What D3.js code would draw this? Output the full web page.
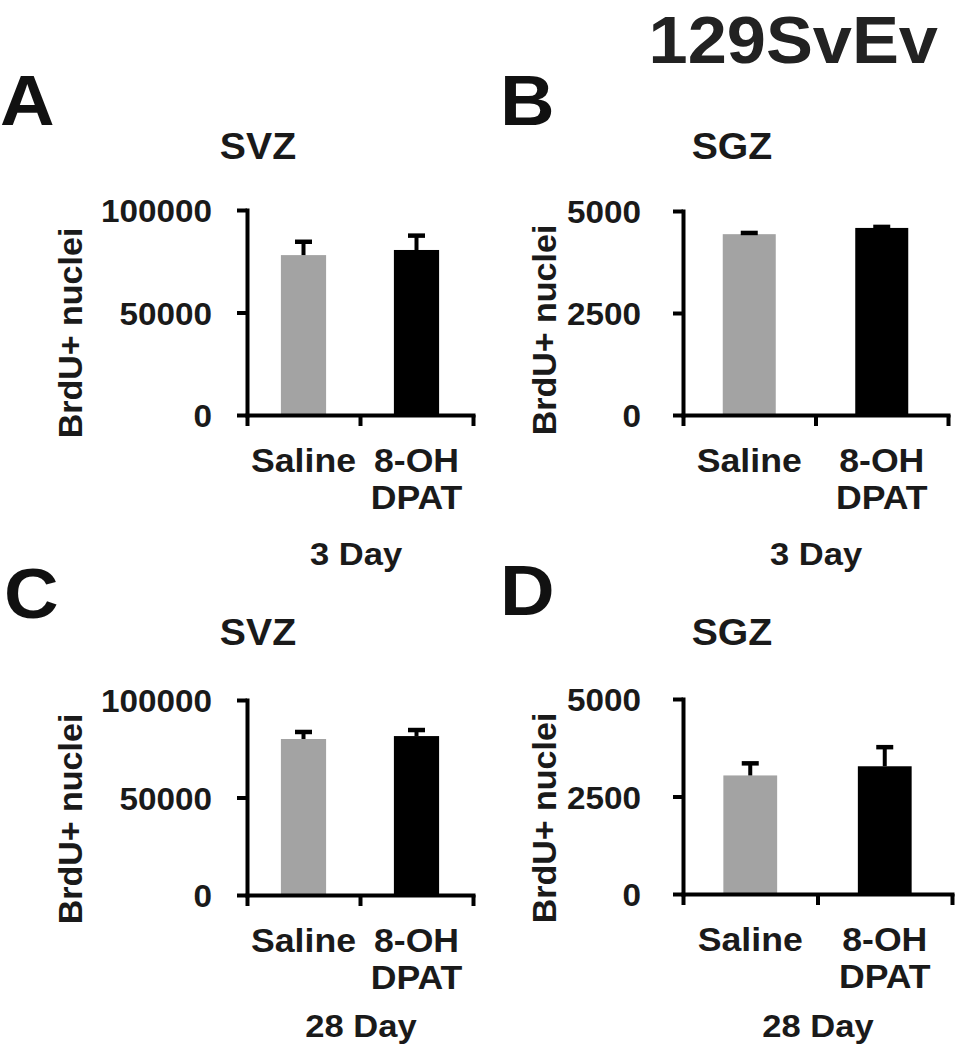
<!DOCTYPE html>
<html>
<head>
<meta charset="utf-8">
<script src="https://cdn.jsdelivr.net/npm/d3@7"></script>
<style>
  html, body { margin: 0; padding: 0; background: #fff; }
  svg { display: block; }
  text { font-family: "Liberation Sans", Arial, Helvetica, sans-serif; font-weight: bold; fill: #1a1a1a; }
</style>
</head>
<body>
<script>
// ---------- data ----------
const figureTitle = "129SvEv";
const panelLetters = ["A", "B", "C", "D"];
const regions = ["SVZ", "SGZ", "SVZ", "SGZ"];
const timepoints = ["3 Day", "3 Day", "28 Day", "28 Day"];
const groups = ["Saline", "8-OH DPAT"];
const groupLabelLines = [["Saline"], ["8-OH", "DPAT"]];
const yAxisTitle = "BrdU+ nuclei";
const yMax = [100000, 5000, 100000, 5000];
const yTicks = [[0, 50000, 100000], [0, 2500, 5000], [0, 50000, 100000], [0, 2500, 5000]];
const meansA = [78000, 80500];  const semA = [6500, 7000];
const meansB = [4432, 4585];    const semB = [30, 25];
const meansC = [80000, 81500];  const semC = [3600, 3100];
const meansD = [3040, 3275];    const semD = [310, 490];
const panelMeans = [meansA, meansB, meansC, meansD];
const panelSems = [semA, semB, semC, semD];
const barColors = ["#a3a3a3", "#000000"];

// ---------- layout ----------
const layout = [
  { x0: 247, x1: 473, yTop: 210, yBot: 415, gap: 35, ylabX: 82, ylabY: 333, letterX: 0, letterY: 125, titleX: 258, titleY: 159, timeX: 356, timeY: 565 },
  { x0: 683, x1: 948, yTop: 211, yBot: 415, gap: 42, ylabX: 556, ylabY: 330, letterX: 500, letterY: 125, titleX: 732, titleY: 159, timeX: 816, timeY: 565 },
  { x0: 247, x1: 473, yTop: 700, yBot: 895, gap: 35, ylabX: 82, ylabY: 819, letterX: 4, letterY: 618, titleX: 258, titleY: 645, timeX: 361, timeY: 1037 },
  { x0: 683, x1: 952, yTop: 699, yBot: 894, gap: 42, ylabX: 556, ylabY: 818, letterX: 500, letterY: 615, titleX: 732, titleY: 645, timeX: 818, timeY: 1037 }
];

const svg = d3.select("body").append("svg").attr("width", 970).attr("height", 1050);

function addText(x, y, str, size, anchor, sx) {
  return svg.append("text")
    .attr("transform", `translate(${x},${y}) scale(${sx || 1.08},1)`)
    .attr("text-anchor", anchor || "middle")
    .style("font-size", size + "px")
    .text(str);
}

// figure title
addText(938, 63, figureTitle, 67, "end", 1.05).style("fill", "#222");

layout.forEach((cfg, i) => {
  const y = d3.scaleLinear().domain([0, yMax[i]]).range([cfg.yBot, cfg.yTop]);
  const xb = d3.scaleBand().domain(groups).range([cfg.x0, cfg.x1]).paddingInner(0.6).paddingOuter(0.3);
  const xl = d3.scaleLinear().domain([0, groups.length]).range([cfg.x0, cfg.x1]);

  // panel letter, region title, timepoint
  addText(cfg.letterX, cfg.letterY, panelLetters[i], 70, "start", 1.08).style("fill", "#111");
  addText(cfg.titleX, cfg.titleY, regions[i], 37, "middle", 1.06);
  addText(cfg.timeX, cfg.timeY, timepoints[i], 32, "middle", 1.08);

  // y-axis title
  svg.append("text")
    .attr("transform", `translate(${cfg.ylabX},${cfg.ylabY}) rotate(-90)`)
    .attr("text-anchor", "middle")
    .style("font-size", "34px")
    .text(yAxisTitle);

  // bars
  const means = panelMeans[i], sems = panelSems[i];
  const g = svg.append("g");
  g.selectAll("rect.bar").data(groups).join("rect")
    .attr("class", "bar")
    .attr("x", d => xb(d))
    .attr("y", (d, k) => y(means[k]))
    .attr("width", xb.bandwidth())
    .attr("height", (d, k) => cfg.yBot - y(means[k]))
    .attr("fill", (d, k) => barColors[k]);

  // error bars (upper only)
  const capHalf = 8.5;
  g.selectAll("line.stem").data(groups).join("line")
    .attr("class", "stem")
    .attr("x1", d => xb(d) + xb.bandwidth() / 2)
    .attr("x2", d => xb(d) + xb.bandwidth() / 2)
    .attr("y1", (d, k) => y(means[k]))
    .attr("y2", (d, k) => y(means[k] + sems[k]))
    .attr("stroke", "#000").attr("stroke-width", 4);
  g.selectAll("line.cap").data(groups).join("line")
    .attr("class", "cap")
    .attr("x1", d => xb(d) + xb.bandwidth() / 2 - capHalf)
    .attr("x2", d => xb(d) + xb.bandwidth() / 2 + capHalf)
    .attr("y1", (d, k) => y(means[k] + sems[k]))
    .attr("y2", (d, k) => y(means[k] + sems[k]))
    .attr("stroke", "#000").attr("stroke-width", 4.5);

  // y axis
  const ya = svg.append("g")
    .attr("transform", `translate(${cfg.x0},0)`)
    .call(d3.axisLeft(y).tickValues(yTicks[i]).tickSize(10).tickSizeOuter(0).tickFormat(d3.format("d")));
  ya.select(".domain").attr("stroke", "#000").attr("stroke-width", 4).attr("stroke-linecap", "square");
  ya.selectAll(".tick line").attr("stroke", "#000").attr("stroke-width", 4);
  ya.selectAll(".tick text")
    .attr("x", null).attr("dy", null)
    .attr("transform", `translate(${-cfg.gap},11.5) scale(1.04,1)`)
    .attr("text-anchor", "end")
    .style("font-size", "32px")
    .style("font-family", null);

  // x axis (ticks at category boundaries)
  const xa = svg.append("g")
    .attr("transform", `translate(0,${cfg.yBot})`)
    .call(d3.axisBottom(xl).tickValues(d3.range(groups.length + 1)).tickSize(11).tickSizeOuter(0).tickFormat(""));
  xa.select(".domain").attr("stroke", "#000").attr("stroke-width", 4).attr("stroke-linecap", "square");
  xa.selectAll(".tick line").attr("stroke", "#000").attr("stroke-width", 4);

  // category labels
  groups.forEach((gname, k) => {
    const cx = xb(gname) + xb.bandwidth() / 2;
    groupLabelLines[k].forEach((line, j) => {
      addText(cx, cfg.yBot + 57 + j * 37, line, 33, "middle", 1.08);
    });
  });
});
</script>
</body>
</html>
